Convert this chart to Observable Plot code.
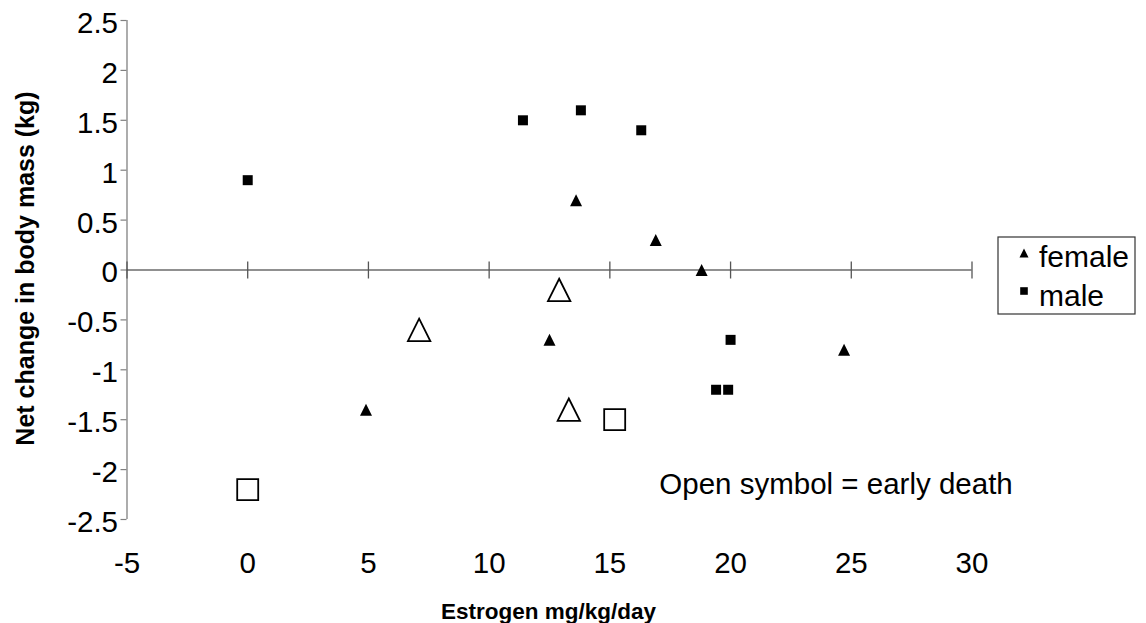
<!DOCTYPE html>
<html>
<head>
<meta charset="utf-8">
<script src="https://cdn.jsdelivr.net/npm/d3@7"></script>
<script src="https://cdn.jsdelivr.net/npm/@observablehq/plot@0.6"></script>
<style>
  html, body { margin: 0; padding: 0; background: #fff; }
  #wrap { position: relative; width: 1146px; height: 623px; font-family: "Liberation Sans", Arial, sans-serif; }
  #legend { position: absolute; left: 997px; top: 236px; }
</style>
</head>
<body>
<div id="wrap"></div>
<script>
// ---- data ----
const xTicks = [-5, 0, 5, 10, 15, 20, 25, 30];
const xTickLabels = ["-5", "0", "5", "10", "15", "20", "25", "30"];
const yTicks = [-2.5, -2, -1.5, -1, -0.5, 0, 0.5, 1, 1.5, 2, 2.5];
const yTickLabels = ["-2.5", "-2", "-1.5", "-1", "-0.5", "0", "0.5", "1", "1.5", "2", "2.5"];

const femaleX = [4.9, 12.5, 13.6, 16.9, 18.8, 24.7];
const femaleY = [-1.4, -0.7, 0.7, 0.3, 0.0, -0.8];
const maleX = [0.0, 11.4, 13.8, 16.3, 19.4, 19.9, 20.0];
const maleY = [0.9, 1.5, 1.6, 1.4, -1.2, -1.2, -0.7];
const femaleEarlyDeathX = [7.1, 12.9, 13.3];
const femaleEarlyDeathY = [-0.6, -0.2, -1.4];
const maleEarlyDeathX = [0.0, 15.2];
const maleEarlyDeathY = [-2.2, -1.5];

const seriesNames = ["female", "male"];
const xTitle = "Estrogen mg/kg/day";
const yTitle = "Net change in body mass (kg)";
const noteText = "Open symbol = early death";
const noteX = 17.05;
const noteY = -2.24;

// ---- build tables ----
const rows = (xs, ys) => xs.map((x, i) => ({x, y: ys[i]}));
const female = rows(femaleX, femaleY);
const male = rows(maleX, maleY);
const femaleDead = rows(femaleEarlyDeathX, femaleEarlyDeathY);
const maleDead = rows(maleEarlyDeathX, maleEarlyDeathY);

// ---- custom symbols (Excel-like markers) ----
const triangle = {draw(ctx, size) { const s = Math.sqrt(size / Math.PI); ctx.moveTo(0, -s); ctx.lineTo(s, s); ctx.lineTo(-s, s); ctx.closePath(); }};
const square = {draw(ctx, size) { const s = Math.sqrt(size / Math.PI); ctx.rect(-s, -s, 2 * s, 2 * s); }};
const crossTick = {draw(ctx) { ctx.moveTo(0, -8.5); ctx.lineTo(0, 8.5); }};

const font = '"Liberation Sans", Arial, sans-serif';
const fmtX = d => xTickLabels[xTicks.indexOf(d)];
const fmtY = d => yTickLabels[yTicks.indexOf(d)];

const chart = Plot.plot({
  width: 1146,
  height: 623,
  marginLeft: 126.5,
  marginRight: 174.5,
  marginTop: 20,
  marginBottom: 104,
  x: {domain: [-5, 30], label: null},
  y: {domain: [-2.5, 2.5], label: null},
  style: {fontFamily: font, background: "white", color: "black", overflow: "visible"},
  marks: [
    // y axis line and ticks
    Plot.ruleX([-5], {stroke: "#808080", strokeWidth: 1.3}),
    Plot.axisY({ticks: yTicks, tickSize: 6, stroke: "#808080", strokeWidth: 1.2, fill: "none", label: null}),
    Plot.axisY({ticks: yTicks, tickSize: 0, tickPadding: 9, dy: 3, fontSize: 29.5, fill: "black", tickFormat: fmtY, label: null}),
    // x axis labels at the bottom
    Plot.axisX({ticks: xTicks, anchor: "bottom", tickSize: 0, tickPadding: 33, fontSize: 29.5, fill: "black", tickFormat: fmtX, label: null}),
    // x axis line crossing at y = 0, with crossing ticks
    Plot.ruleY([0], {stroke: "#222", strokeWidth: 1.2}),
    Plot.dot(xTicks, {x: d => d, y: 0, symbol: crossTick, r: 1, fill: "none", stroke: "#555", strokeWidth: 1.3}),
    // data
    Plot.dot(female, {x: "x", y: "y", symbol: triangle, r: 6, fill: "black", stroke: "none"}),
    Plot.dot(male, {x: "x", y: "y", symbol: square, r: 5, fill: "black", stroke: "none"}),
    Plot.dot(femaleDead, {x: "x", y: "y", symbol: triangle, r: 11.2, fill: "white", stroke: "black", strokeWidth: 1.8}),
    Plot.dot(maleDead, {x: "x", y: "y", symbol: square, r: 10.5, fill: "white", stroke: "black", strokeWidth: 1.8}),
    // annotation and titles
    Plot.text([noteText], {x: noteX, y: noteY, text: d => d, textAnchor: "start", lineAnchor: "bottom", fontSize: 29.5, fill: "black"}),
    Plot.text([yTitle], {frameAnchor: "left", text: d => d, textAnchor: "middle", rotate: -90, dx: -93.5, dy: -1.5, lineAnchor: "bottom", fontSize: 25, fontWeight: "bold", fill: "black"}),
    Plot.text([xTitle], {frameAnchor: "bottom", text: d => d, textAnchor: "middle", dy: 99, dx: -1, lineAnchor: "bottom", fontSize: 22.5, fontWeight: "bold", fill: "black"})
  ]
});

const wrap = document.getElementById("wrap");
wrap.appendChild(chart);

// ---- legend (box to the right of the plot) ----
const lg = d3.select(wrap).append("svg").attr("id", "legend").attr("width", 141).attr("height", 80);
lg.append("rect").attr("x", 1).attr("y", 1).attr("width", 137).attr("height", 77)
  .attr("fill", "white").attr("stroke", "#333").attr("stroke-width", 1.2);
const legendSymbols = [triangle, square];
const legendR = [4.5, 3.8];
seriesNames.forEach((name, i) => {
  const cy = 17 + i * 38;
  lg.append("path")
    .attr("transform", `translate(27,${cy})`)
    .attr("d", d3.symbol(legendSymbols[i], legendR[i] * legendR[i] * Math.PI)())
    .attr("fill", "black");
  lg.append("text").attr("x", 42).attr("y", 31 + i * 39)
    .attr("font-family", font).attr("font-size", 30).attr("fill", "black").text(name);
});
</script>
</body>
</html>
